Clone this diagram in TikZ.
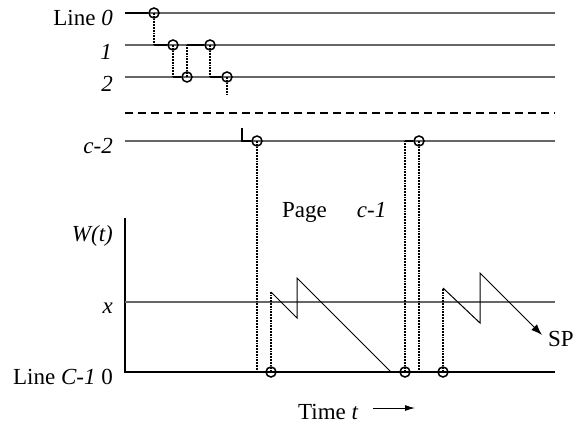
\documentclass[tikz,border=0pt]{standalone}
\usepackage{fontspec}
\setmainfont{Liberation Serif}
\usetikzlibrary{arrows.meta}

\begin{document}
\begin{tikzpicture}[x=1pt, y=-1pt, font=\fontsize{23}{27}\selectfont,
    ring/.style = {draw, circle, line width=1.5pt, inner sep=0pt, minimum size=10pt},
    track/.style = {black!60, line width=1.1pt},
    seg/.style = {line width=2.4pt},
    link/.style = {densely dotted, line width=1.8pt},
    saw/.style = {line width=1pt},
    lbl/.style = {inner sep=0pt, anchor=east}]
    \useasboundingbox (0,0) rectangle (580,425);

    % cache lines
    \draw[track] (125,13) -- (555,13);
    \draw[track] (125,45) -- (555,45);
    \draw[track] (125,77) -- (555,77);
    \draw[dash pattern=on 8pt off 5pt, line width=1.5pt] (125,113) -- (555,113);
    \draw[track] (125,141) -- (555,141);

    % W(t) axis
    \draw[line width=1.2pt] (125,218) -- (125,372) -- (555,372);
    \draw[track] (125,302) -- (555,302);

    \node[lbl] (l0) at (113,18) {Line \textit{0}};
    \node[lbl] (l1) at (112,52) {\textit{1}};
    \node[lbl] (l2) at (113,84) {\textit{2}};
    \node[lbl] (lc2) at (113,146) {\textit{c-2}};
    \node[lbl] (lw) at (113,236) {\textit{W(t)}};
    \node[lbl] (lx) at (113,308) {\textit{x}};
    \node[lbl] (lC1) at (113,377) {Line \textit{C-1} 0};
    \node[inner sep=0pt, anchor=west] (page) at (282,212) {Page\hspace{30pt}\textit{c-1}};
    \node[inner sep=0pt, anchor=west] (sp) at (548,339) {SP};
    \node[inner sep=0pt, anchor=west] (time) at (298,412) {Time \textit{t}};

    % accesses
    \node[ring] (p0) at (154,13) {};
    \node[ring] (p1) at (173,45) {};
    \node[ring] (p2) at (187,77) {};
    \node[ring] (p3) at (210,45) {};
    \node[ring] (p4) at (227,77) {};
    \node[ring] (q1) at (257,141) {};
    \node[ring] (q2) at (419,141) {};
    \node[ring] (r1) at (271,372) {};
    \node[ring] (r2) at (405,372) {};
    \node[ring] (r3) at (443,372) {};

    \coordinate (a0) at (125,13);
    \coordinate (a1) at (227,95);
    \coordinate (a2) at (242,128);
    \coordinate (s1) at (271,292);
    \coordinate (s2) at (297,318);
    \coordinate (s3) at (297,278);
    \coordinate (s4) at (391,372);
    \coordinate (s5) at (443,288);
    \coordinate (s6) at (480,323);
    \coordinate (s7) at (480,273);
    \coordinate (s8) at (542,335);
    \coordinate (t1) at (373,408);
    \coordinate (t2) at (415,408);

    \draw[seg] (a0) -- (p0);
    \draw[link] (p0.center) -- (p0 |- p1);
    \draw[seg] (p0 |- p1) -- (p1);
    \draw[link] (p1.center) -- (p1 |- p2);
    \draw[seg] (p1 |- p2) -- (p2);
    \draw[link] (p2.center) -- (p2 |- p3);
    \draw[seg] (p2 |- p3) -- (p3);
    \draw[link] (p3.center) -- (p3 |- p4);
    \draw[seg] (p3 |- p4) -- (p4);
    \draw[link] (p4.center) -- (a1);

    \draw[seg] (a2) -- (a2 |- q1) -- (q1);
    \draw[link] (q1.center) -- (q1 |- r1);
    \draw[seg] (q1 |- r1) -- (r1);
    \draw[link] (r1.center) -- (s1);
    \draw[saw] (s1) -- (s2) -- (s3) -- (s4) -- (r2);
    \draw[link] (r2.center) -- (r2 |- q2);
    \draw[seg] (r2 |- q2) -- (q2);
    \draw[link] (q2.center) -- (q2 |- r3);
    \draw[seg] (q2 |- r3) -- (r3);
    \draw[link] (r3.center) -- (s5);
    \draw[saw, -{Latex[length=11pt, width=8pt]}] (s5) -- (s6) -- (s7) -- (s8);

    \draw[line width=1pt, -{Latex[length=10pt, width=6pt]}] (t1) -- (t2);
\end{tikzpicture}
\end{document}
